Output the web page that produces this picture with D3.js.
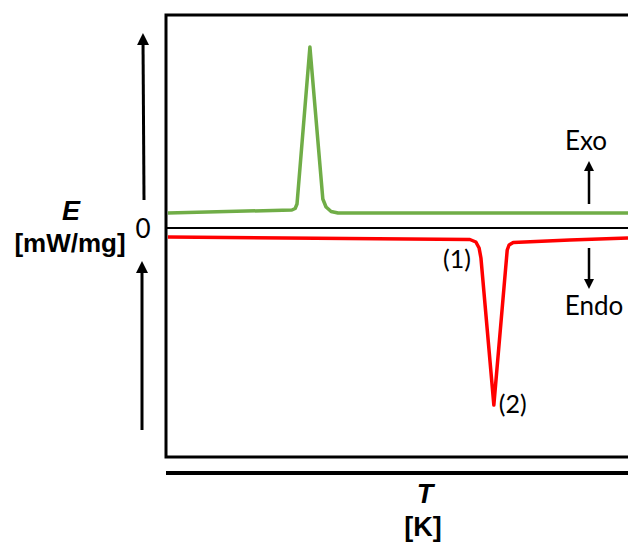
<!DOCTYPE html>
<html>
<head>
<meta charset="utf-8">
<script src="https://cdn.jsdelivr.net/npm/d3@7"></script>
<style>
  body { margin: 0; background: #fff; }
  #canvas { width: 628px; height: 545px; }
</style>
</head>
<body>
<div id="canvas" class="canvas"></div>
<script>
// data: temperature (arbitrary units 0-100) and heat flow E
var greenT = [0.2, 27.1, 27.8, 28.2, 31.0, 33.8, 34.5, 35.6, 37.1, 100];
var greenE = [0.30, 0.36, 0.39, 0.48, 3.62, 0.58, 0.42, 0.33, 0.30, 0.30];

var redT = [0.2, 65.7, 67.0, 67.7, 68.1, 70.9, 73.8, 74.2, 75.1, 87.4, 100];
var redE = [-0.18, -0.23, -0.28, -0.40, -0.60, -3.54, -0.44, -0.34, -0.29, -0.24, -0.20];

var peakLabels = ['(1)', '(2)'];
var peakT = [62.9, 75.0];
var peakE = [-0.80, -3.70];

var w = 628, h = 545;

var svg = d3.select('.canvas').append('svg')
    .attr('width', w)
    .attr('height', h);

var x = d3.scaleLinear().domain([0, 100]).range([167, 628]);
var y = d3.scaleLinear().domain([-4.58, 4.26]).range([457, 15]);

// arrow head marker
svg.append('defs').append('marker')
    .attr('id', 'head')
    .attr('viewBox', '0 0 10 10')
    .attr('refX', 5).attr('refY', 5)
    .attr('markerWidth', 4).attr('markerHeight', 4.5)
    .attr('orient', 'auto')
  .append('path')
    .attr('d', 'M0,0 L10,5 L0,10 Z')
    .style('fill', '#000');

// frame
svg.append('rect')
    .attr('x', x(0) - 1).attr('y', y.range()[1])
    .attr('width', 520).attr('height', y.range()[0] - y.range()[1])
    .style('fill', 'none').style('stroke', '#000').style('stroke-width', 3);

// zero line
svg.append('line')
    .attr('x1', x(0)).attr('x2', x(100))
    .attr('y1', y(0)).attr('y2', y(0))
    .style('stroke', '#000').style('stroke-width', 2);

// T axis bar below the frame
svg.append('line')
    .attr('x1', x(0) - 1).attr('x2', w)
    .attr('y1', 473).attr('y2', 473)
    .style('stroke', '#000').style('stroke-width', 4);

var line = d3.line()
    .x(function(d) { return x(d[0]); })
    .y(function(d) { return y(d[1]); });

var greenData = greenT.map(function(t, i) { return [t, greenE[i]]; });
var redData = redT.map(function(t, i) { return [t, redE[i]]; });

svg.append('path').datum(greenData)
    .attr('d', line)
    .style('fill', 'none').style('stroke', '#70ad47')
    .style('stroke-width', 3.5).style('stroke-linejoin', 'round');

svg.append('path').datum(redData)
    .attr('d', line)
    .style('fill', 'none').style('stroke', '#ff0000')
    .style('stroke-width', 3.5).style('stroke-linejoin', 'round');

var calibri = 'Lato, "Open Sans", sans-serif';
var arial = '"Liberation Sans", Arial, sans-serif';

// peak labels
svg.selectAll('.peak').data(peakLabels).enter()
  .append('text')
    .attr('class', 'peak')
    .attr('x', function(d, i) { return x(peakT[i]); })
    .attr('y', function(d, i) { return y(peakE[i]); })
    .attr('text-anchor', 'middle')
    .style('font-family', calibri)
    .style('font-size', '25px')
    .text(function(d) { return d; });

// arrows
function arrow(x1, y1, x2, y2, sw) {
  svg.append('line')
      .attr('x1', x1).attr('y1', y1).attr('x2', x2).attr('y2', y2)
      .attr('marker-end', 'url(#head)')
      .style('stroke', '#000').style('stroke-width', sw);
}
arrow(144, 200, 143, 39, 3);
arrow(142, 430, 142, 267, 3);
arrow(589, 204, 589, 166, 2.5);
arrow(589, 248, 589, 284, 2.5);

svg.append('text').attr('x', 143).attr('y', 238)
    .attr('text-anchor', 'middle')
    .style('font-family', calibri).style('font-size', '26px')
    .text('0');

svg.append('text').attr('x', 586).attr('y', 150)
    .attr('text-anchor', 'middle')
    .style('font-family', calibri).style('font-size', '26px')
    .text('Exo');

svg.append('text').attr('x', 594).attr('y', 315)
    .attr('text-anchor', 'middle')
    .style('font-family', calibri).style('font-size', '26px')
    .text('Endo');

// axis titles
svg.append('text').attr('x', 71).attr('y', 220)
    .attr('text-anchor', 'middle')
    .style('font-family', arial).style('font-size', '27px')
    .style('font-weight', 'bold').style('font-style', 'italic')
    .text('E');

svg.append('text').attr('x', 70).attr('y', 252)
    .attr('text-anchor', 'middle')
    .style('font-family', arial).style('font-size', '26px')
    .style('font-weight', 'bold')
    .text('[mW/mg]');

svg.append('text').attr('x', 425).attr('y', 503)
    .attr('text-anchor', 'middle')
    .style('font-family', arial).style('font-size', '27px')
    .style('font-weight', 'bold').style('font-style', 'italic')
    .text('T');

svg.append('text').attr('x', 423).attr('y', 536)
    .attr('text-anchor', 'middle')
    .style('font-family', arial).style('font-size', '27px')
    .style('font-weight', 'bold')
    .text('[K]');
</script>
</body>
</html>
